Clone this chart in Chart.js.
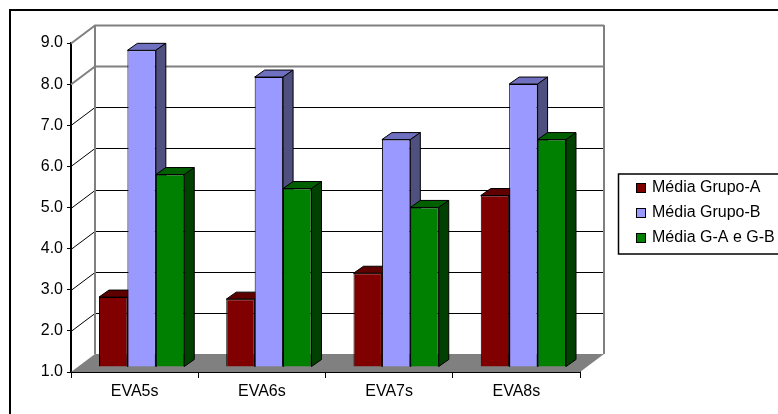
<!DOCTYPE html>
<html>
<head>
<meta charset="utf-8">
<style>
html, body { margin: 0; padding: 0; background: #fff; }
#wrap { width: 778px; height: 414px; }
</style>
<script src="https://cdn.jsdelivr.net/npm/chart.js@4"></script>
</head>
<body>
<div id="wrap"><canvas id="miGrafico" width="778" height="414"></canvas></div>
<script>
const categories = ['EVA5s', 'EVA6s', 'EVA7s', 'EVA8s'];
const grupoA = [2.70, 2.65, 3.28, 5.17];
const grupoB = [8.70, 8.05, 6.53, 7.88];
const grupoAB = [5.68, 5.34, 4.88, 6.53];
const legendLabels = ['Média Grupo-A', 'Média Grupo-B', 'Média G-A e G-B'];

const fonte = 'Liberation Sans, Arial, sans-serif';
const profX = 24, profY = 18;   // depth of the walls
const barX = 10, barY = 7;      // depth of each bar
const shiftX = 7, shiftY = 5;   // bars stand a bit inside the floor

function shade(ctx, pts, fill) {
    ctx.beginPath();
    pts.forEach((p, i) => i ? ctx.lineTo(p[0], p[1]) : ctx.moveTo(p[0], p[1]));
    ctx.closePath();
    ctx.fillStyle = fill;
    ctx.fill();
    ctx.strokeStyle = '#000';
    ctx.lineWidth = 1;
    ctx.stroke();
}

// walls, floor and the outer frame go behind the bars
const paredes = {
    id: 'paredes',
    beforeDatasetsDraw(chart) {
        const { ctx, chartArea: a, scales: { y } } = chart;
        ctx.save();
        ctx.strokeStyle = '#000';
        ctx.lineWidth = 2;
        ctx.beginPath();
        ctx.moveTo(10, 414); ctx.lineTo(10, 10); ctx.lineTo(778, 10);
        ctx.stroke();

        for (let v = 2; v <= 9; v++) {
            const py = Math.round(y.getPixelForValue(v)) + 0.5;
            const gris = v >= 8;
            ctx.strokeStyle = gris ? '#808080' : '#000';
            ctx.lineWidth = gris ? 2 : 1;
            ctx.beginPath();
            ctx.moveTo(a.left, py);
            ctx.lineTo(a.left + profX, py - profY);
            ctx.lineTo(a.right + profX, py - profY);
            ctx.stroke();
        }
        ctx.strokeStyle = '#808080';
        ctx.lineWidth = 2;
        ctx.beginPath();
        ctx.moveTo(a.left + profX, a.bottom - profY);
        ctx.lineTo(a.left + profX, a.top - profY);
        ctx.moveTo(a.right + profX, a.top - profY);
        ctx.lineTo(a.right + profX, a.bottom - profY);
        ctx.stroke();

        ctx.beginPath();
        ctx.moveTo(a.left, a.bottom);
        ctx.lineTo(a.left + profX, a.bottom - profY);
        ctx.lineTo(a.right + profX, a.bottom - profY);
        ctx.lineTo(a.right, a.bottom);
        ctx.closePath();
        ctx.fillStyle = '#808080';
        ctx.fill();
        ctx.restore();

        ctx.save();
        ctx.translate(shiftX, -shiftY);
        const cores = [['#5f0000', '#3f0000'], ['#7070c0', '#4f4f80'], ['#006000', '#004000']];
        chart.data.datasets.forEach((ds, d) => {
            chart.getDatasetMeta(d).data.forEach(bar => {
                const l = bar.x - bar.width / 2, r = bar.x + bar.width / 2;
                shade(ctx, [[l, bar.y], [l + barX, bar.y - barY], [r + barX, bar.y - barY], [r, bar.y]], cores[d][0]);
                shade(ctx, [[r, bar.y], [r + barX, bar.y - barY], [r + barX, bar.base - barY], [r, bar.base]], cores[d][1]);
            });
        });
    },
    afterDatasetsDraw(chart) {
        const { ctx } = chart;
        ctx.restore();
        // legend
        ctx.save();
        ctx.strokeStyle = '#000';
        ctx.lineWidth = 1.5;
        ctx.strokeRect(618.5, 174, 175, 80);
        ctx.lineWidth = 1;
        ctx.font = '16px ' + fonte;
        ctx.textBaseline = 'middle';
        legendLabels.forEach((t, i) => {
            const ly = 188 + i * 25;
            ctx.fillStyle = chart.data.datasets[i].backgroundColor;
            ctx.fillRect(636.5, ly - 4.5, 9, 9);
            ctx.strokeRect(636.5, ly - 4.5, 9, 9);
            ctx.fillStyle = '#000';
            ctx.fillText(t, 652, ly);
        });
        ctx.restore();
    }
};

new Chart(document.getElementById('miGrafico'), {
    type: 'bar',
    data: {
        labels: categories,
        datasets: [
            { label: legendLabels[0], data: grupoA, backgroundColor: '#800000' },
            { label: legendLabels[1], data: grupoB, backgroundColor: '#9999ff' },
            { label: legendLabels[2], data: grupoAB, backgroundColor: '#008000' }
        ].map(d => Object.assign(d, { base: 1, borderColor: '#000', borderWidth: 1, barPercentage: 1, categoryPercentage: 0.67 }))
    },
    plugins: [paredes],
    options: {
        responsive: false,
        animation: false,
        layout: { padding: { left: 0, right: 198, top: 43, bottom: 0 } },
        plugins: { legend: { display: false }, title: { display: false }, tooltip: { enabled: false } },
        scales: {
            x: {
                offset: true,
                afterFit(s) { s.height = 42; },
                grid: { drawOnChartArea: false, color: '#000', tickLength: 6, offset: true },
                border: { color: '#000', width: 2 },
                ticks: { color: '#000', font: { family: fonte, size: 16 }, padding: 4, maxRotation: 0 }
            },
            y: {
                min: 1, max: 9,
                grid: { drawOnChartArea: false, color: '#000', tickLength: 4 },
                border: { color: '#000', width: 2 },
                afterFit(s) { s.width = 71; },
                ticks: { stepSize: 1, color: '#000', font: { family: fonte, size: 16 }, padding: 4,
                    callback: v => Number(v).toFixed(1) }
            }
        }
    }
});
</script>
</body>
</html>
